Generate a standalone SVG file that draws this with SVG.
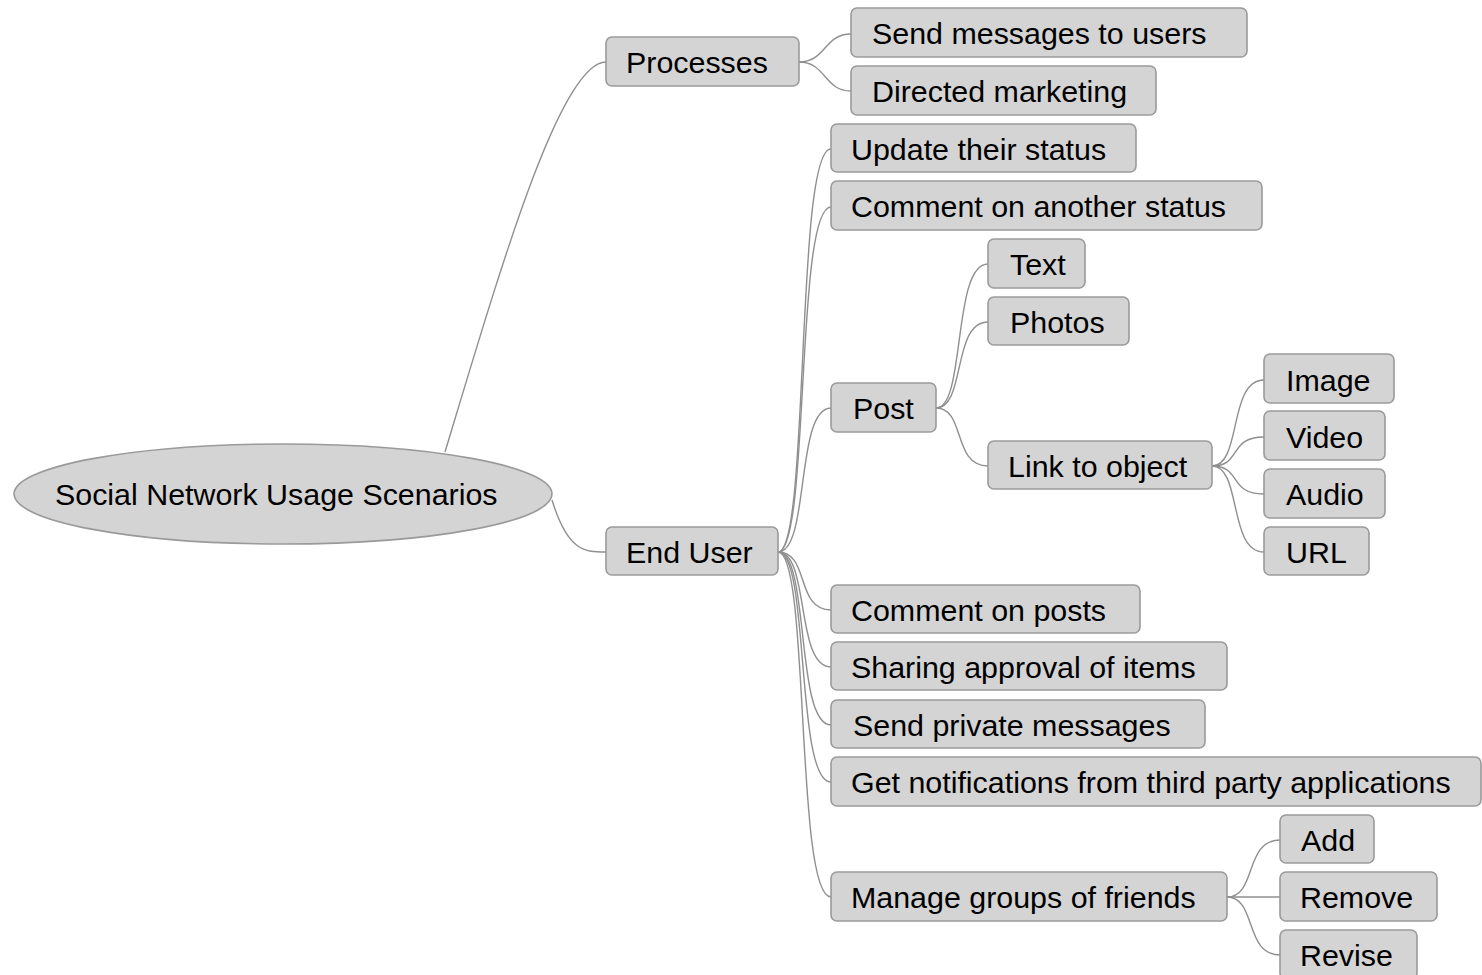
<svg xmlns="http://www.w3.org/2000/svg" width="1482" height="975" viewBox="0 0 1482 975">
<style>
.n rect{fill:#d4d4d4;stroke:#9a9a9a;stroke-width:1.6}
.n ellipse{fill:#d4d4d4;stroke:#9a9a9a;stroke-width:1.6}
text{font-family:"Liberation Sans",Arial,sans-serif;font-size:30.4px;fill:#000}
#connectors path{fill:none;stroke:#8f8f8f;stroke-width:1.4}
</style>
<rect width="1482" height="975" fill="#fff"/>
<g id="connectors">
<path d="M445,452 C500,270 560,62 606,62"/>
<path d="M552,500 C568,552 585,552 606,552"/>
<path d="M799,62 C826,62 824,34 851,34"/>
<path d="M799,62 C826,62 824,91 851,91"/>
<path d="M778,552 C810,552 795,149 831,149"/>
<path d="M778,552 C810,552 795,207 831,207"/>
<path d="M778,552 C810,552 795,408 831,408"/>
<path d="M778,552 C810,552 795,610 831,610"/>
<path d="M778,552 C810,552 795,667 831,667"/>
<path d="M778,552 C810,552 795,725 831,725"/>
<path d="M778,552 C810,552 795,782 831,782"/>
<path d="M778,552 C810,552 795,897 831,897"/>
<path d="M936,408 C966,408 952,264 988,264"/>
<path d="M936,408 C966,408 952,322 988,322"/>
<path d="M936,408 C966,408 952,466 988,466"/>
<path d="M1212,466 C1242,466 1228,380 1264,380"/>
<path d="M1212,466 C1242,466 1228,437 1264,437"/>
<path d="M1212,466 C1242,466 1228,494 1264,494"/>
<path d="M1212,466 C1242,466 1228,552 1264,552"/>
<path d="M1227,897 C1257,897 1244,840 1280,840"/>
<path d="M1227,897 L1280,897"/>
<path d="M1227,897 C1257,897 1244,955 1280,955"/>
</g>
<g id="root" class="n"><ellipse cx="283" cy="494" rx="269" ry="50"/><text x="55" y="505">Social Network Usage Scenarios</text></g>
<g id="processes" class="n"><rect x="606" y="37" width="193" height="49" rx="6"/><text x="626" y="73">Processes</text></g>
<g id="send-messages" class="n"><rect x="851" y="8" width="396" height="49" rx="6"/><text x="872" y="44">Send messages to users</text></g>
<g id="directed-marketing" class="n"><rect x="851" y="66" width="305" height="49" rx="6"/><text x="872" y="102">Directed marketing</text></g>
<g id="end-user" class="n"><rect x="606" y="527" width="172" height="48" rx="6"/><text x="626" y="563">End User</text></g>
<g id="update-status" class="n"><rect x="831" y="124" width="305" height="48" rx="6"/><text x="851" y="160">Update their status</text></g>
<g id="comment-status" class="n"><rect x="831" y="181" width="431" height="49" rx="6"/><text x="851" y="217">Comment on another status</text></g>
<g id="post" class="n"><rect x="831" y="383" width="105" height="49" rx="6"/><text x="853" y="419">Post</text></g>
<g id="text" class="n"><rect x="988" y="239" width="97" height="49" rx="6"/><text x="1010" y="275">Text</text></g>
<g id="photos" class="n"><rect x="988" y="297" width="141" height="48" rx="6"/><text x="1010" y="333">Photos</text></g>
<g id="link-object" class="n"><rect x="988" y="441" width="224" height="48" rx="6"/><text x="1008" y="477">Link to object</text></g>
<g id="image" class="n"><rect x="1264" y="354" width="130" height="49" rx="6"/><text x="1286" y="391">Image</text></g>
<g id="video" class="n"><rect x="1264" y="411" width="121" height="49" rx="6"/><text x="1286" y="448">Video</text></g>
<g id="audio" class="n"><rect x="1264" y="469" width="121" height="49" rx="6"/><text x="1286" y="505">Audio</text></g>
<g id="url" class="n"><rect x="1264" y="527" width="105" height="48" rx="6"/><text x="1286" y="563">URL</text></g>
<g id="comment-posts" class="n"><rect x="831" y="585" width="309" height="48" rx="6"/><text x="851" y="621">Comment on posts</text></g>
<g id="sharing-approval" class="n"><rect x="831" y="642" width="396" height="48" rx="6"/><text x="851" y="678">Sharing approval of items</text></g>
<g id="private-messages" class="n"><rect x="831" y="700" width="374" height="48" rx="6"/><text x="853" y="736">Send private messages</text></g>
<g id="notifications" class="n"><rect x="831" y="757" width="650" height="49" rx="6"/><text x="851" y="793">Get notifications from third party applications</text></g>
<g id="manage-groups" class="n"><rect x="831" y="872" width="396" height="49" rx="6"/><text x="851" y="908">Manage groups of friends</text></g>
<g id="add" class="n"><rect x="1280" y="815" width="94" height="48" rx="6"/><text x="1301" y="851">Add</text></g>
<g id="remove" class="n"><rect x="1280" y="872" width="157" height="49" rx="6"/><text x="1300" y="908">Remove</text></g>
<g id="revise" class="n"><rect x="1280" y="930" width="137" height="49" rx="6"/><text x="1300" y="966">Revise</text></g>
</svg>
